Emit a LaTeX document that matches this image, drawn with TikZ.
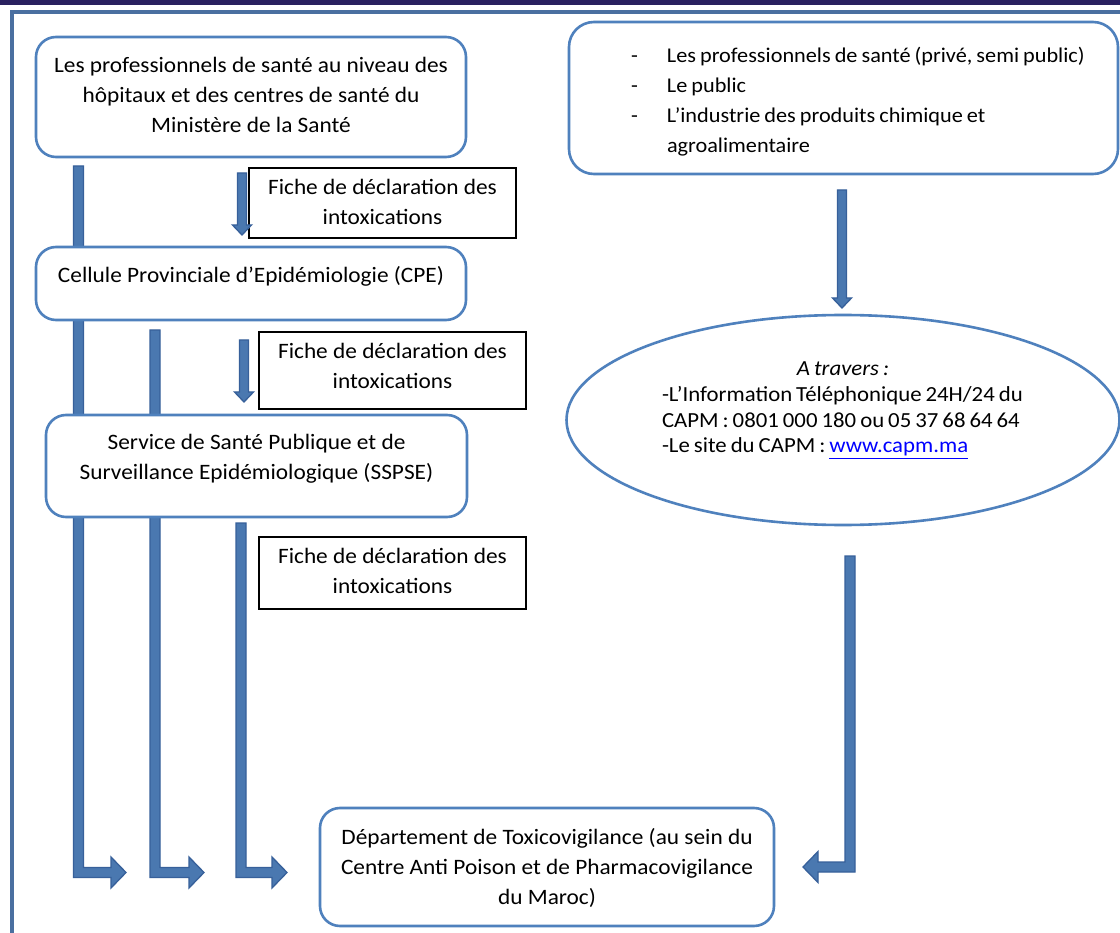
\documentclass[tikz,border=0pt]{standalone}
\usepackage{fontspec}
\setmainfont{Carlito}[FakeStretch=1.06]
\usetikzlibrary{calc,shapes.geometric,backgrounds}
\definecolor{boxblue}{HTML}{4F81BD}
\definecolor{frameblue}{HTML}{4A6FA0}
\definecolor{arrfillc}{HTML}{4A78B0}
\definecolor{arrdraw}{HTML}{37609A}
\definecolor{bandc}{HTML}{2A2160}
\definecolor{linkblue}{HTML}{0000FF}
\newcommand\downarr[2]{%
 \draw[arr] ($(#1)+(-4.5,0)$) -- ($(#1)+(4.5,0)$) -- ($(#2)+(4.5,-10)$) -- ($(#2)+(9.5,-10)$) -- (#2) -- ($(#2)+(-9.5,-10)$) -- ($(#2)+(-4.5,-10)$) -- cycle;}
\newcommand\rightarr[3]{%
 \draw[arr] ($(#1)+(-5,0)$) -- ($(#1)+(5,0)$) -- ($(#2)+(5,-5)$) -- ($(#3)+(-15,-5)$) -- ($(#3)+(-15,-15.5)$) -- (#3) -- ($(#3)+(-15,15.5)$) -- ($(#3)+(-15,5)$) -- ($(#2)+(-5,5)$) -- cycle;}
\newcommand\leftarr[3]{%
 \draw[arr] ($(#1)+(-5,0)$) -- ($(#1)+(5,0)$) -- ($(#2)+(5,5)$) -- ($(#3)+(15,5)$) -- ($(#3)+(15,15.5)$) -- (#3) -- ($(#3)+(15,-15.5)$) -- ($(#3)+(15,-5)$) -- ($(#2)+(-5,-5)$) -- cycle;}
\newcommand\tightA{\fontsize{21}{30}\selectfont\spaceskip=4pt\relax}
\newcommand\tightB{\fontsize{21.5}{25.7}\selectfont\spaceskip=4pt\relax}
\begin{document}
\begin{tikzpicture}[x=1pt,y=-1pt,
 rbox/.style={draw=boxblue,line width=2.6pt,fill=white,rounded corners=20pt,inner sep=0pt,align=center,font=\fontsize{22}{30}\selectfont},
 lbox/.style={draw=black,line width=1.4pt,fill=white,inner sep=0pt,align=center,font=\fontsize{22}{30}\selectfont},
 arr/.style={fill=arrfillc,draw=arrdraw,line width=1.3pt,line join=miter}]
\useasboundingbox (0,0) rectangle (1120,933);
\fill[bandc] (0,0) rectangle (1120,5);
\draw[frameblue,line width=3.5pt] (12,933) -- (12,12) -- (1120,12);

% nodes
\node[rbox,minimum width=430,minimum height=120,text height=77,text depth=5] (src) at (251,97)
 {Les professionnels de santé au niveau des\\hôpitaux et des centres de santé du\\Ministère de la Santé};
\node[rbox,minimum width=430,minimum height=73,text height=15,text depth=16] (cpe) at (251,283.5)
 {Cellule Provinciale d’Epidémiologie (CPE)};
\node[rbox,minimum width=421,minimum height=102,text height=45,text depth=19] (sspse) at (256.5,466)
 {Service de Santé Publique et de\\Surveillance Epidémiologique (SSPSE)};
\node[lbox,minimum width=267,minimum height=70,text height=48,text depth=4] (lab1) at (382.5,203)
 {Fiche de déclaration des\\intoxications};
\node[lbox,minimum width=267,minimum height=77,text height=45,text depth=8] (lab2) at (392.5,370.5)
 {Fiche de déclaration des\\intoxications};
\node[lbox,minimum width=267,minimum height=72,text height=45,text depth=5] (lab3) at (392.5,573)
 {Fiche de déclaration des\\intoxications};
\node[rbox,minimum width=454,minimum height=118,text height=78,text depth=4] (dept) at (547,867)
 {Département de Toxicovigilance (au sein du\\Centre Anti Poison et de Pharmacovigilance\\du Maroc)};
\node[rbox,rounded corners=25pt,minimum width=549,minimum height=152,align=left,
 font=\tightA,text height=114,text depth=4] (others) at (843.5,98)
 {\makebox[549pt][l]{\hspace*{62pt}\makebox[36pt][l]{-}Les professionnels de santé (privé, semi public)}\\
  \makebox[549pt][l]{\hspace*{62pt}\makebox[36pt][l]{-}Le public}\\
  \makebox[549pt][l]{\hspace*{62pt}\makebox[36pt][l]{-}L’industrie des produits chimique et}\\
  \makebox[549pt][l]{\hspace*{98pt}agroalimentaire}};
\node[ellipse,draw=boxblue,line width=2.6pt,fill=white,inner sep=0pt,minimum width=553,minimum height=210,
 align=left,font=\tightB,text height=92,text depth=26] (capm) at (843,420)
 {\makebox[362pt][c]{\itshape A travers :}\\
  \makebox[362pt][l]{-L’Information Téléphonique 24H/24 du}\\
  \makebox[362pt][l]{CAPM : 0801 000 180 ou 05 37 68 64 64}\\
  \makebox[362pt][l]{-Le site du CAPM : \textcolor{linkblue}{\underline{www.capm.ma}}}};

% connectors
\coordinate (a1s) at (242,173); \coordinate (a1e) at (242,235);
\coordinate (a2s) at (244,340); \coordinate (a2e) at (244,402);
\coordinate (a3s) at (842,190); \coordinate (a3e) at (842,308);
\coordinate (b1s) at (78.5,166); \coordinate (b1c) at (78.5,872.5); \coordinate (b1t) at (126,872.5);
\coordinate (b2s) at (155,330); \coordinate (b2c) at (155,872.5); \coordinate (b2t) at (204,872.5);
\coordinate (b3s) at (241,523); \coordinate (b3c) at (241,872.5); \coordinate (b3t) at (287,872.5);
\coordinate (b4s) at (850,556); \coordinate (b4c) at (850,867); \coordinate (b4t) at (803,867);
\begin{scope}[on background layer]
\fill[white] (0,5) rectangle (1120,933);
\rightarr{b1s}{b1c}{b1t}
\rightarr{b2s}{b2c}{b2t}
\rightarr{b3s}{b3c}{b3t}
\leftarr{b4s}{b4c}{b4t}
\end{scope}
\downarr{a1s}{a1e}
\downarr{a2s}{a2e}
\downarr{a3s}{a3e}
\end{tikzpicture}
\end{document}
